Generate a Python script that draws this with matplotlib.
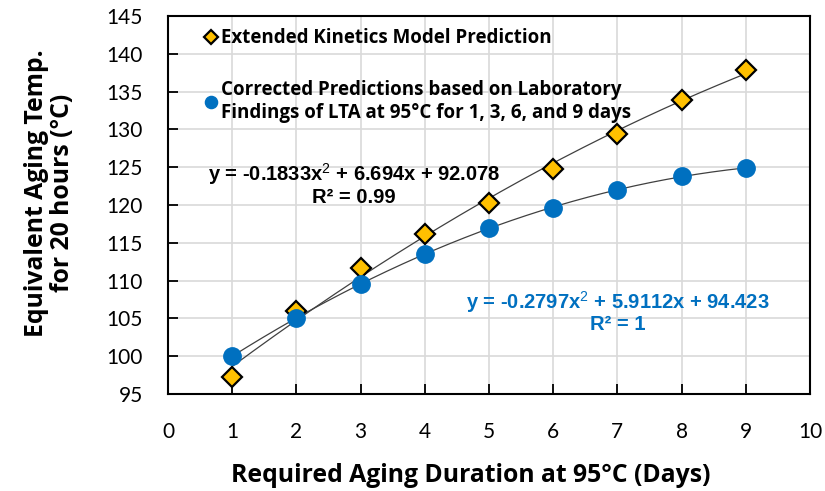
import numpy as np
import matplotlib.pyplot as plt
from matplotlib import font_manager

days = [1, 2, 3, 4, 5, 6, 7, 8, 9]
kinetic_model = [97.2, 106.0, 111.7, 116.1, 120.3, 124.7, 129.4, 133.9, 137.9]
corrected = [100.0, 105.0, 109.6, 113.5, 117.0, 119.6, 122.0, 123.8, 124.9]

x_ticks = list(range(0, 11))
y_ticks = list(range(95, 150, 5))

eq_model = "y = -0.1833x$^2$ + 6.694x + 92.078\nR² = 0.99"
eq_corrected = "y = -0.2797x$^2$ + 5.9112x + 94.423\nR² = 1"

GOLD = "#FFC000"
BLUE = "#0070C0"

names = {f.name for f in font_manager.fontManager.ttflist}
TXT = "Lato" if "Lato" in names else "DejaVu Sans"
BOLD = "Open Sans" if "Open Sans" in names else "DejaVu Sans"
HAS_NARROW = "Liberation Sans Narrow" in names
NARROW = "Liberation Sans Narrow" if HAS_NARROW else "Liberation Sans"
EQ_SIZE = 17 if HAS_NARROW else 14.5

plt.rcParams["font.family"] = TXT
plt.rcParams["mathtext.fontset"] = "custom"
plt.rcParams["mathtext.rm"] = NARROW
plt.rcParams["mathtext.bf"] = NARROW + ":bold"

fig = plt.figure(figsize=(8.25, 4.91), dpi=100)
ax = fig.add_axes([168 / 825, 1 - 394 / 491, (810 - 168) / 825, (394 - 16) / 491])

# quadratic trendlines
xs = np.linspace(days[0], days[-1], 200)
for series in (kinetic_model, corrected):
    c = np.polyfit(days, series, 2)
    ax.plot(xs, np.polyval(c, xs), color="#404040", lw=0.9, zorder=2)

ax.plot(days, kinetic_model, "D", ms=10, mfc=GOLD, mec="black", mew=1.6,
        ls="none", zorder=3, label="Extended Kinetics Model Prediction")
ax.plot(days, corrected, "o", ms=12.5, mfc=BLUE, mec=BLUE, ls="none", zorder=3,
        label="Corrected Predictions based on Laboratory\nFindings of LTA at 95°C for 1, 3, 6, and 9 days")

ax.set_xlim(0, 10)
ax.set_ylim(95, 145)
ax.set_xticks(x_ticks)
ax.set_yticks(y_ticks)
ax.grid(True, color="#d9d9d9", lw=1.2)
ax.set_axisbelow(True)
ax.tick_params(direction="in", length=7, width=1.3, labelsize=15)
ax.tick_params(axis="y", pad=18)
ax.tick_params(axis="x", pad=20)
for s in ax.spines.values():
    s.set_linewidth(1.5)

ax.set_xlabel("Required Aging Duration at 95°C (Days)", fontsize=17.8,
              fontweight="bold", family=BOLD, labelpad=15)
ax.set_ylabel("Equivalent Aging Temp.\nfor 20 hours (°C)", fontsize=17.8,
              fontweight="bold", family=BOLD, labelpad=23, linespacing=1.05)
ax.xaxis.label.set_x(0.472)
ax.yaxis.label.set_y(0.532)

ax.legend(loc="upper left", bbox_to_anchor=(0.03, 1.012), frameon=False,
          handletextpad=0.2, handlelength=0.7, labelspacing=1.68, markerscale=0.7,
          prop={"family": BOLD, "weight": "bold", "size": 13.5})

ax.text(2.9, 122.8, eq_model, ha="center", va="center", fontsize=EQ_SIZE,
        fontweight="bold", family=NARROW, linespacing=1.05)
ax.text(7.0, 105.9, eq_corrected, ha="center", va="center", fontsize=EQ_SIZE,
        fontweight="bold", family=NARROW, color=BLUE, linespacing=1.05)

fig.savefig("out.png", dpi=100, facecolor="white")
